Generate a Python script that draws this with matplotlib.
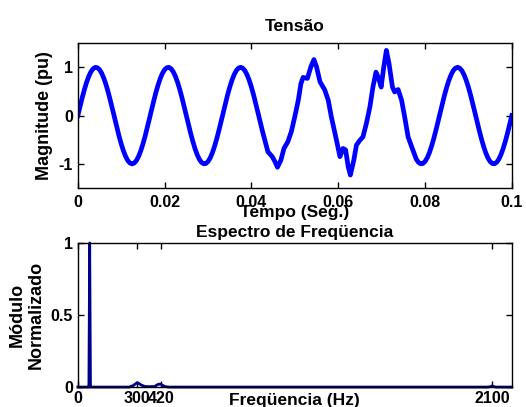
import numpy as np
import matplotlib
matplotlib.use("Agg")
import matplotlib.pyplot as plt

plt.rcParams['font.family'] = ['Liberation Sans', 'DejaVu Sans']
plt.rcParams['font.weight'] = 'bold'
plt.rcParams['font.size'] = 11.5

# --- sinal de tensao (pu) ---
# trecho limpo inicial, amostras a cada 0.5 ms
dt = 0.0005
v_start = [0.000, 0.187, 0.368, 0.536, 0.685, 0.809, 0.905, 0.969, 0.998, 0.992,
           0.951, 0.876, 0.771, 0.637, 0.482, 0.309, 0.125, -0.063, -0.249, -0.426,
           -0.588, -0.729, -0.844, -0.930, -0.982, -1.000, -0.982, -0.930, -0.844, -0.729,
           -0.588, -0.426, -0.249, -0.063, 0.125, 0.309, 0.482, 0.637, 0.771, 0.876,
           0.951, 0.992, 0.998, 0.969, 0.905, 0.809, 0.685, 0.536, 0.368, 0.187,
           0.000, -0.187, -0.368, -0.536, -0.685, -0.809, -0.905, -0.969, -0.998, -0.992,
           -0.951, -0.876, -0.771, -0.637, -0.482, -0.309, -0.125, 0.063, 0.249, 0.426,
           0.588, 0.729, 0.844, 0.930, 0.982, 1.000, 0.982, 0.930, 0.844, 0.729,
           0.588, 0.426, 0.249, 0.063, -0.125, -0.309, -0.482]

# trecho com distorcao harmonica
t_dist = [0.0438, 0.0448, 0.0454, 0.0460, 0.0468, 0.0475, 0.0484, 0.0492, 0.0500, 0.0508,
          0.0514, 0.0519, 0.0529, 0.0537, 0.0544, 0.0550, 0.0558, 0.0569, 0.0577, 0.0584,
          0.0596, 0.0604, 0.0611, 0.0617, 0.0623, 0.0628, 0.0636, 0.0642, 0.0650, 0.0657,
          0.0665, 0.0673, 0.0680, 0.0687, 0.0692, 0.0699, 0.0705, 0.0711, 0.0717, 0.0725,
          0.0730, 0.0738, 0.0746, 0.0753, 0.0761, 0.0769, 0.0779]
v_dist = [-0.75, -0.85, -0.95, -1.07, -0.92, -0.68, -0.54, -0.33, -0.02, 0.32,
          0.66, 0.79, 0.77, 1.01, 1.16, 1.01, 0.70, 0.53, 0.32, -0.02,
          -0.51, -0.85, -0.68, -0.71, -1.06, -1.23, -0.92, -0.61, -0.51, -0.44,
          -0.16, 0.18, 0.59, 0.90, 0.80, 0.59, 1.01, 1.35, 1.08, 0.59,
          0.49, 0.54, 0.32, -0.02, -0.44, -0.64, -0.88]

# trecho limpo final (a partir de 0.078 s)
k_end0 = 156
v_end = [-0.905, -0.969, -0.998, -0.992, -0.951, -0.876, -0.771, -0.637, -0.482, -0.309,
         -0.125, 0.063, 0.249, 0.426, 0.588, 0.729, 0.844, 0.930, 0.982, 1.000,
         0.982, 0.930, 0.844, 0.729, 0.588, 0.426, 0.249, 0.063, -0.125, -0.309,
         -0.482, -0.637, -0.771, -0.876, -0.951, -0.992, -0.998, -0.969, -0.905, -0.809,
         -0.685, -0.536, -0.368, -0.187, 0.000]

# --- espectro normalizado ---
freq = [0, 50, 56, 60, 64, 70, 260, 280, 290, 300, 310, 320, 340, 360,
        390, 400, 410, 420, 430, 440, 460, 2080, 2095, 2100, 2105, 2120, 2200]
modulo = [0, 0, 0, 1, 0, 0, 0, 0.01, 0.02, 0.03, 0.025, 0.015, 0.004, 0.003,
          0.004, 0.014, 0.02, 0.02, 0.012, 0.004, 0, 0, 0.004, 0.008, 0.004, 0, 0]
freq_ticks = [0, 300, 420, 2100]

t_start = np.arange(len(v_start)) * dt
t_end = (k_end0 + np.arange(len(v_end))) * dt
t = np.concatenate([t_start, t_dist, t_end])
v = np.concatenate([v_start, v_dist, v_end])

fig = plt.figure(figsize=(5.26, 4.07), dpi=100)
ax1 = fig.add_axes([0.148, 0.538, 0.825, 0.356])
ax2 = fig.add_axes([0.148, 0.049, 0.825, 0.354])

ax1.plot(t, v, color='#0000ff', lw=3.4)
ax1.set_xlim(0, 0.1)
ax1.set_ylim(-1.5, 1.5)
ax1.set_xticks([0, 0.02, 0.04, 0.06, 0.08, 0.1])
ax1.set_xticklabels(['0', '0.02', '0.04', '0.06', '0.08', '0.1'])
ax1.set_yticks([-1, 0, 1])
ax1.set_yticklabels(['-1', '0', '1'])
ax1.set_title('Tensão', fontweight='bold', fontsize=12.5, pad=9)
ax1.set_xlabel('Tempo (Seg.)', fontweight='bold', fontsize=12.5)
ax1.xaxis.set_label_coords(0.5, -0.117)
ax1.set_ylabel('Magnitude (pu)', fontweight='bold', fontsize=13)
ax1.yaxis.set_label_coords(-0.058, 0.5)
ax1.tick_params(axis='x', pad=5)

ax2.plot(freq, modulo, color='#00008b', lw=2.0, clip_on=False)
ax2.set_xlim(0, 2200)
ax2.set_ylim(0, 1)
ax2.set_xticks(freq_ticks)
ax2.set_yticks([0, 0.5, 1])
ax2.set_yticklabels(['0', '0.5', '1'])
ax2.set_title('Espectro de Freqüencia', fontweight='bold', fontsize=12.5, pad=4)
ax2.set_xlabel('Freqüencia (Hz)', fontweight='bold', fontsize=12.5)
ax2.xaxis.set_label_coords(0.5, -0.042)
ax2.set_ylabel('Módulo\nNormalizado', fontweight='bold', fontsize=13)
ax2.yaxis.set_label_coords(-0.076, 0.5)
ax2.tick_params(axis='x', pad=3)

for ax in (ax1, ax2):
    ax.tick_params(direction='in', top=True, right=True, length=4, width=1, labelsize=11.5)
    for s in ax.spines.values():
        s.set_linewidth(1)

fig.savefig('out.png', dpi=100)
